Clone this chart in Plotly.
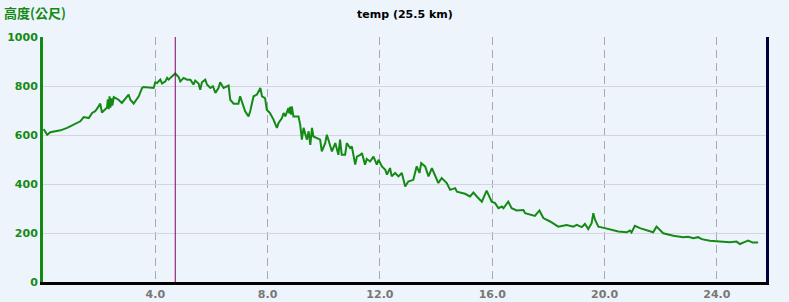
import plotly.graph_objects as go

dist_km = [0.02, 0.15, 0.26, 0.62, 0.86, 1.09, 1.33, 1.45, 1.63, 1.75, 1.86, 1.98, 2.04, 2.10, 2.28, 2.31, 2.34, 2.37,
           2.40, 2.44, 2.47, 2.52,
           2.69, 2.81, 2.93, 3.05, 3.11, 3.23, 3.41, 3.53, 3.58, 3.94, 4.00, 4.06, 4.18, 4.24, 4.36, 4.42, 4.47, 4.59,
           4.71, 4.83, 4.89, 5.01, 5.13, 5.25, 5.36, 5.42, 5.54, 5.60, 5.66, 5.78, 5.84, 5.96, 6.05, 6.14, 6.25, 6.31,
           6.43, 6.61, 6.67, 6.79, 6.96, 7.02, 7.14, 7.20, 7.32, 7.38, 7.50, 7.62, 7.71,
           7.74, 7.80, 7.91, 7.97, 8.08, 8.21, 8.33, 8.39, 8.51, 8.57, 8.63, 8.74, 8.77, 8.80, 8.83, 8.86, 8.92, 9.10,
           9.16, 9.22,
           9.28, 9.40, 9.46, 9.52, 9.58, 9.63, 9.75, 9.87, 9.93, 10.05, 10.11, 10.23, 10.29, 10.41, 10.52, 10.58, 10.64,
           10.76, 10.82, 10.94, 11.00, 11.12, 11.18, 11.30, 11.36, 11.47, 11.53, 11.65, 11.77, 11.89, 11.95, 12.07,
           12.19, 12.25, 12.36, 12.42, 12.54, 12.66, 12.78, 12.90, 13.01, 13.19, 13.31, 13.41, 13.47, 13.61, 13.73,
           13.85, 13.96, 14.08, 14.20, 14.38, 14.50, 14.68, 14.74, 14.85, 15.03, 15.21, 15.33, 15.45, 15.63, 15.80,
           15.98, 16.10, 16.22, 16.34, 16.40, 16.57, 16.69, 16.87, 17.11, 17.17, 17.35,
           17.52, 17.68, 17.82, 18.06, 18.35, 18.65, 18.89, 19.01, 19.19, 19.30, 19.42, 19.54, 19.60, 19.66, 19.78,
           20.01, 20.25, 20.49, 20.79, 20.90, 20.96, 21.08, 21.26, 21.44, 21.73, 21.85, 21.97, 22.09, 22.45, 22.80,
           22.98, 23.16, 23.33, 23.46, 23.75, 24.22, 24.46, 24.70, 24.82, 25.00, 25.12, 25.27, 25.47]

elev_m = [624, 601, 611, 619, 629, 642, 656, 673, 669, 690, 697, 717, 728, 692, 712, 745, 705, 758,
          712, 750, 720, 755,
          744, 731, 747, 765, 744, 728, 758, 792, 796, 792, 815, 812, 826, 810, 819, 833, 826, 837,
          851, 837, 819, 833, 826, 826, 806, 822, 810, 785, 815, 826, 806, 792, 799, 772, 792, 815,
          792, 802, 744, 728, 728, 758, 717, 697, 676, 697, 758, 765, 785,
          792, 758, 751, 703, 690, 663, 629, 649, 669, 690, 676, 710, 688, 715, 683, 717, 676, 676,
          642, 581,
          629, 581, 615, 560, 629, 594, 588, 581, 533, 567, 601, 553, 533, 567, 519, 581, 519,
          519, 567, 547, 553, 479, 512, 519, 526, 479, 502, 492, 512, 479, 499, 472,
          458, 438, 465, 431, 445, 431, 445, 390, 410, 417, 472, 445, 485, 472, 431,
          465, 438, 404, 424, 404, 376, 383, 369, 365, 360, 349, 365, 349, 328, 373,
          328, 322, 301, 308, 301, 328, 301, 292, 294, 281, 276,
          270, 292, 261, 247, 226, 233, 226, 233, 224, 237, 216, 240, 281, 254, 226,
          220, 213, 206, 203, 210, 202, 229, 220, 213, 203, 226, 213, 199, 189, 183,
          185, 179, 183, 175, 168, 166, 162, 165, 155, 164, 169, 161, 161]

x_ticks = [4, 8, 12, 16, 20, 24]
x_tick_labels = ["4.0", "8.0", "12.0", "16.0", "20.0", "24.0"]
y_ticks = [0, 200, 400, 600, 800, 1000]
cursor_km = 4.71
title_text = "temp (25.5 km)"
y_title_text = "高度(公尺)"

bg = "#eef4fc"
fig = go.Figure()
fig.add_trace(go.Scatter(x=dist_km, y=elev_m, mode="lines",
                         line=dict(color="#148a14", width=2), hoverinfo="skip", showlegend=False))
# invisible trace on secondary y axis so the right border shows
fig.add_trace(go.Scatter(x=[dist_km[0]], y=[elev_m[0]], yaxis="y2", mode="markers",
                         marker=dict(opacity=0), hoverinfo="skip", showlegend=False))

fig.add_vline(x=cursor_km, line=dict(color="#800060", width=1))

fig.update_layout(
    width=789, height=302,
    margin=dict(l=43, r=23, t=37, b=20),
    paper_bgcolor=bg, plot_bgcolor=bg,
    xaxis=dict(range=[0, 25.75], tickvals=x_ticks, ticktext=x_tick_labels,
               showgrid=True, gridcolor="#a8a8b0", griddash="8px,5px", gridwidth=1,
               showline=True, linecolor="#000000", linewidth=3,
               ticks="", ticklen=0, automargin=False,
               tickfont=dict(family="Verdana, DejaVu Sans", size=11, color="#777777", weight="bold"),
               zeroline=False, fixedrange=True),
    yaxis=dict(range=[0, 1000], tickvals=y_ticks,
               showgrid=True, gridcolor="#d4d4dc", gridwidth=1,
               showline=True, linecolor="#148a14", linewidth=3,
               ticks="", ticklen=0, automargin=False,
               tickfont=dict(family="Verdana, DejaVu Sans", size=11, color="#148a14", weight="bold"),
               zeroline=False, fixedrange=True),
    yaxis2=dict(range=[0, 1000], overlaying="y", side="right", showgrid=False,
                showline=True, linecolor="#000040", linewidth=3, showticklabels=False,
                ticks="", zeroline=False, automargin=False),
    annotations=[
        dict(text=title_text, x=0.5, y=1.0, xref="paper", yref="paper", yanchor="bottom",
             xanchor="center", yshift=14, showarrow=False,
             font=dict(family="Verdana, DejaVu Sans", size=11, color="#000000", weight="bold")),
        dict(text=y_title_text, x=0, y=1.0, xref="paper", yref="paper", xanchor="left",
             yanchor="bottom", xshift=-41, yshift=13, showarrow=False,
             font=dict(family="Noto Sans CJK TC", size=13, color="#148a14", weight="bold")),
    ],
)

fig.write_html("out.html")
